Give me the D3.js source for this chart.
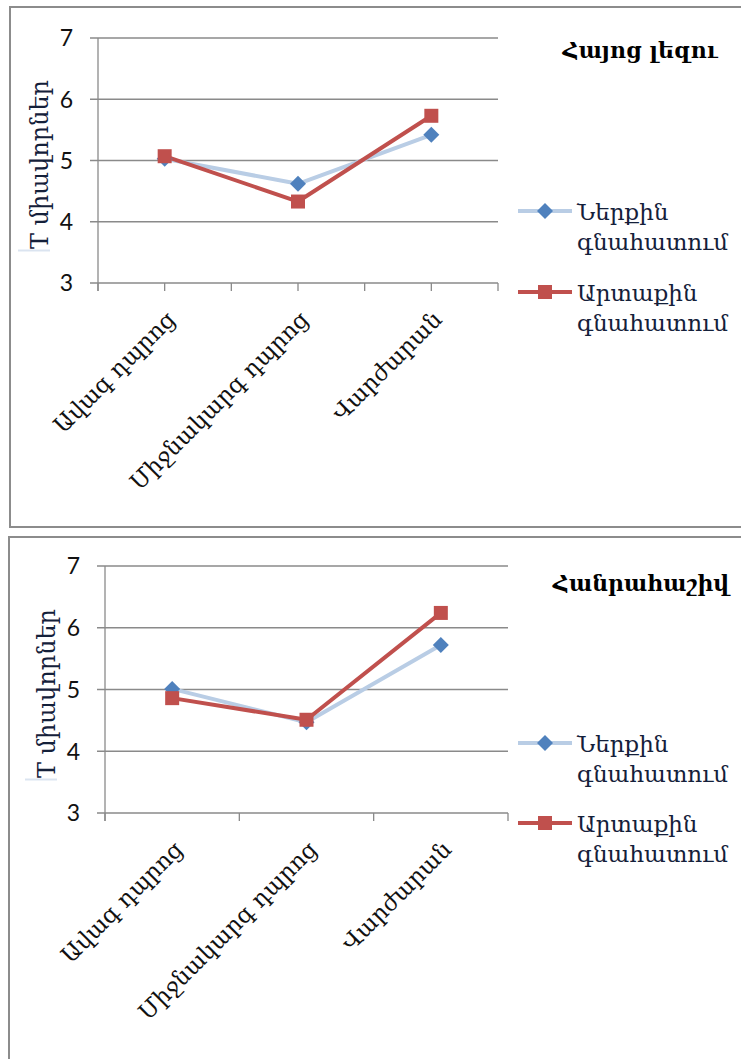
<!DOCTYPE html>
<html>
<head>
<meta charset="utf-8">
<script src="https://cdn.jsdelivr.net/npm/d3@7"></script>
<style>
  body { margin: 0; background: #fff; }
  svg { display: block; }
</style>
</head>
<body>
<svg id="chart" width="741" height="1059"></svg>
<script>
// data
var categories = ["Ավագ դպրոց", "Միջնակարգ դպրոց", "Վարժարան"];
var seriesNames = ["Ներքին գնահատում", "Արտաքին գնահատում"];
var titles = ["Հայոց լեզու", "Հանրահաշիվ"];
var yTicks = [3, 4, 5, 6, 7];
var yTitle = "T միավորներ";

var armInternal = [5.03, 4.62, 5.42];
var armExternal = [5.07, 4.33, 5.73];
var algInternal = [5.01, 4.47, 5.72];
var algExternal = [4.86, 4.51, 6.24];

var armFont = "'DejaVu Serif', serif";
var numFont = "Lato, 'Open Sans', sans-serif";
var gridColor = "#8a8a8a";
var blueLine = "#b9cde5", blueMark = "#4f81bd";
var redLine = "#c0504d", redMark = "#c0504d";

var svg = d3.select("#chart");

var panels = [
  { frame: [10, 7, 527], plot: [98, 38, 498, 283], midTicks: true,
    title: titles[0], titlePos: [640, 50], legendY: [211, 292],
    values: [armInternal, armExternal] },
  { frame: [9, 537, 1070], plot: [105, 566, 508, 813], midTicks: false,
    title: titles[1], titlePos: [641, 583], legendY: [743, 823],
    values: [algInternal, algExternal] }
];

panels.forEach(drawPanel);

function drawPanel(p){
  var g = svg.append("g");

  // frame
  g.append("path")
    .attr("d", "M741," + p.frame[1] + "H" + p.frame[0] + "V" + p.frame[2] + (p.frame[2] < 1059 ? "H741" : ""))
    .attr("fill", "none")
    .attr("stroke", "#8c8c8c")
    .attr("stroke-width", 2);

  var x = d3.scaleBand().domain(categories).range([p.plot[0], p.plot[2]]);
  var y = d3.scaleLinear().domain([3, 7]).range([p.plot[3], p.plot[1]]);

  // gridlines + left ticks
  g.selectAll(".grid").data(yTicks).enter().append("line")
    .attr("x1", p.plot[0] - 8).attr("x2", p.plot[2])
    .attr("y1", function(d){ return y(d); })
    .attr("y2", function(d){ return y(d); })
    .attr("stroke", gridColor).attr("stroke-width", 1.3);

  // y axis line
  g.append("line")
    .attr("x1", p.plot[0]).attr("x2", p.plot[0])
    .attr("y1", p.plot[1]).attr("y2", p.plot[3] + 8)
    .attr("stroke", gridColor).attr("stroke-width", 1.3);

  // x ticks
  var tickXs = [p.plot[0]];
  categories.forEach(function(c){
    if (p.midTicks) tickXs.push(x(c) + x.bandwidth() / 2);
    tickXs.push(x(c) + x.bandwidth());
  });
  g.selectAll(".xtick").data(tickXs).enter().append("line")
    .attr("x1", function(d){ return d; }).attr("x2", function(d){ return d; })
    .attr("y1", p.plot[3]).attr("y2", p.plot[3] + 8)
    .attr("stroke", gridColor).attr("stroke-width", 1.3);

  // y tick labels
  g.selectAll(".ylab").data(yTicks).enter().append("text")
    .attr("x", p.plot[0] - 25)
    .attr("y", function(d){ return y(d); })
    .attr("dy", "0.36em")
    .attr("text-anchor", "end")
    .attr("font-family", numFont)
    .attr("font-size", 23)
    .attr("fill", "#111")
    .text(function(d){ return d; });

  // y title
  var ty = (p.plot[1] + p.plot[3]) / 2;
  g.append("text")
    .attr("transform", "translate(" + (p.plot[0] - 50) + "," + (ty + 4) + ") rotate(-90)")
    .attr("text-anchor", "middle")
    .attr("font-family", armFont)
    .attr("font-size", 24)
    .attr("fill", "#14203a")
    .text(yTitle);
  g.append("line")
    .attr("x1", p.plot[0] - 80).attr("x2", p.plot[0] - 48)
    .attr("y1", ty + 90).attr("y2", ty + 90)
    .attr("stroke", "#dbe4f0").attr("stroke-width", 2);

  // category labels
  g.selectAll(".xlab").data(categories).enter().append("text")
    .attr("transform", function(d){
      return "translate(" + (x(d) + x.bandwidth() / 2 + 12) + "," + (p.plot[3] + 38) + ") rotate(-45)";
    })
    .attr("text-anchor", "end")
    .attr("font-family", armFont)
    .attr("font-size", 23)
    .attr("fill", "#111")
    .text(function(d){ return d; });

  // lines
  var line = d3.line()
    .x(function(d, i){ return x(categories[i]) + x.bandwidth() / 2; })
    .y(function(d){ return y(d); });

  var lineColors = [blueLine, redLine];
  var markColors = [blueMark, redMark];

  p.values.forEach(function(vals, s){
    g.append("path")
      .datum(vals)
      .attr("d", line)
      .attr("fill", "none")
      .attr("stroke", lineColors[s])
      .attr("stroke-width", 4)
      .attr("stroke-linejoin", "round");
  });

  p.values.forEach(function(vals, s){
    g.selectAll(".m" + s).data(vals).enter().append("path")
      .attr("transform", function(d, i){
        return "translate(" + (x(categories[i]) + x.bandwidth() / 2) + "," + y(d) + ")";
      })
      .attr("d", s == 0 ? "M0,-8L8,0L0,8L-8,0Z" : "M-7,-7H7V7H-7Z")
      .attr("fill", markColors[s]);
  });

  // title
  g.append("text")
    .attr("x", p.titlePos[0]).attr("y", p.titlePos[1])
    .attr("dy", "0.35em")
    .attr("text-anchor", "middle")
    .attr("font-family", armFont)
    .attr("font-weight", "bold")
    .attr("font-size", 22)
    .attr("fill", "#000")
    .text(p.title);

  // legend
  seriesNames.forEach(function(name, s){
    var ly = p.legendY[s];
    var lg = g.append("g");
    lg.append("line")
      .attr("x1", 518).attr("x2", 572)
      .attr("y1", ly).attr("y2", ly)
      .attr("stroke", lineColors[s]).attr("stroke-width", 4);
    lg.append("path")
      .attr("transform", "translate(545," + ly + ")")
      .attr("d", s == 0 ? "M0,-8L8,0L0,8L-8,0Z" : "M-7,-7H7V7H-7Z")
      .attr("fill", markColors[s]);
    var words = name.split(" ");
    words.forEach(function(w, k){
      lg.append("text")
        .attr("x", 577)
        .attr("y", ly + 9 + k * 30)
        .attr("font-family", armFont)
        .attr("font-size", 23)
        .attr("fill", "#14203a")
        .text(w);
    });
  });
}
</script>
</body>
</html>
